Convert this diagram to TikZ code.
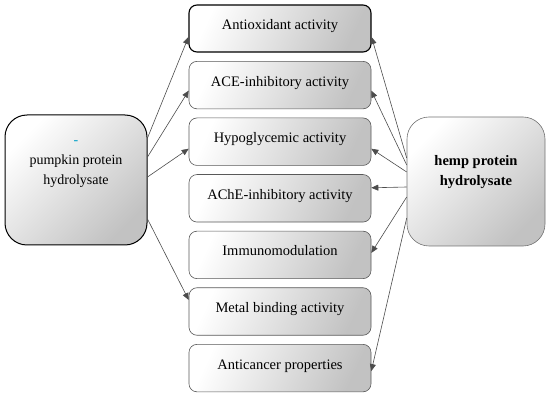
\documentclass[tikz,border=0pt]{standalone}
\usepackage{fontspec}
\setmainfont{Liberation Serif}
\usetikzlibrary{positioning,arrows.meta}

\begin{document}
\begin{tikzpicture}[
  x=1pt,y=-1pt,
  line width=0.6pt,
  node distance=8.5pt,
  % Shaded boxes: white at the upper left, grey at the lower right.
  effect/.style={draw=black!65,rounded corners=8pt,
    top color=white,bottom color=black!24,shading angle=65,
    minimum width=182pt,minimum height=47.5pt,inner sep=0pt,
    text height=9pt,text depth=7pt,font=\fontsize{14.5}{16}\selectfont},
  source/.style={rounded corners=22pt,
    top color=white,bottom color=black!24,shading angle=45,
    minimum width=142pt,minimum height=130pt,inner sep=0pt},
  srctext/.style={align=center,font=\fontsize{14}{20}\selectfont},
  link/.style={-{Triangle[length=7pt,width=6pt]},draw=black!70,line width=0.6pt},
]
\useasboundingbox (0,0) rectangle (550,393);

%--- the two sources ----------------------------------------------------------
\node[source,draw=black,line width=1pt,
  label={[srctext,yshift=16pt]center:{{\color[RGB]{0,160,200}-}\\pumpkin protein\\hydrolysate}}]
  (pump) at (76,180) {};
\node[source,draw=black!55,minimum width=138pt,minimum height=129pt,
  label={[srctext,font=\fontsize{14.5}{20}\selectfont\bfseries,yshift=9.5pt]center:{hemp protein\\hydrolysate}}]
  (hemp) at (476,181.5) {};

%--- the column of activities -------------------------------------------------
\node[effect,draw=black,line width=1.1pt,minimum height=47pt] (anti) at (280,28.5)
  {Antioxidant activity};
\node[effect,below=of anti] (ace)   {ACE-inhibitory activity};
\node[effect,below=of ace]  (hypo)  {Hypoglycemic activity};
\node[effect,below=of hypo] (ache)  {AChE-inhibitory activity};
\node[effect,below=of ache] (immu)  {Immunomodulation};
\node[effect,below=of immu] (metal) {Metal binding activity};
\node[effect,below=of metal] (canc) {Anticancer properties};

%--- links from the pumpkin side ----------------------------------------------
\draw[link] ([yshift=42pt]pump.east)  -- ([yshift=-8.5pt]anti.west);
\draw[link] ([yshift=23pt]pump.east)  -- ([yshift=-5.5pt]ace.west);
\draw[link] ([yshift=3pt]pump.east)   -- ([yshift=-7pt]hypo.west);
\draw[link] ([yshift=-39pt]pump.east) -- ([yshift=11.5pt]metal.west);

%--- links from the hemp side -------------------------------------------------
\draw[link] ([yshift=23.5pt]hemp.west)  -- ([yshift=-8.5pt]anti.east);
\draw[link] ([yshift=16.5pt]hemp.west)  -- ([yshift=-5.5pt]ace.east);
\draw[link] ([yshift=9.5pt]hemp.west)   -- ([yshift=-7pt]hypo.east);
\draw[link] ([yshift=-5.5pt]hemp.west)  -- ([yshift=10.5pt]ache.east);
\draw[link] ([yshift=-15.5pt]hemp.west) -- ([yshift=2pt]immu.east);
\draw[link] ([yshift=-36.5pt]hemp.west) -- ([yshift=-3pt]canc.east);

\end{tikzpicture}
\end{document}
